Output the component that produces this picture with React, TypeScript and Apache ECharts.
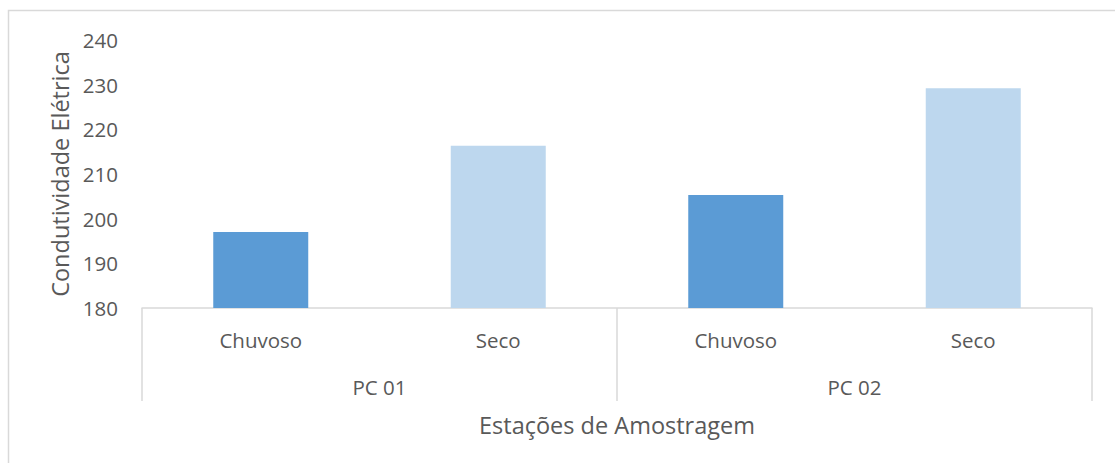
import React, { useEffect, useRef } from "react";
import * as echarts from "echarts";

const categories = ["Chuvoso", "Seco", "Chuvoso", "Seco"];
const groups = ["PC 01", "PC 02"];
const values = [197, 216.3, 205.3, 229.2];
const barColors = ["#5B9BD5", "#BDD7EE", "#5B9BD5", "#BDD7EE"];
const yTitle = "Condutividade Elétrica";
const xTitle = "Estações de Amostragem";

export default function App() {
  const ref = useRef<HTMLDivElement>(null);
  useEffect(() => {
    if (!ref.current) return;
    const chart = echarts.init(ref.current, undefined, { renderer: "svg" });
    const font = "'Open Sans', sans-serif";
    const txt = "#595959";
    const line = "#D9D9D9";
    chart.setOption({
      animation: false,
      backgroundColor: "#ffffff",
      textStyle: { fontFamily: font },
      grid: { left: 142, right: 23, top: 40, bottom: 155 },
      graphic: [
        {
          type: "rect",
          shape: { x: 8.5, y: 10.5, width: 1200, height: 600 },
          style: { fill: "none", stroke: line, lineWidth: 1.5 },
          silent: true,
          z: -1,
        },
      ],
      xAxis: [
        {
          type: "category",
          data: categories,
          position: "bottom",
          axisLine: { show: true, lineStyle: { color: line, width: 1.5 } },
          axisTick: { show: false },
          axisLabel: {
            color: txt,
            fontSize: 20.5,
            fontFamily: font,
            margin: 32,
            verticalAlign: "middle",
          },
          splitLine: { show: false },
        },
        {
          type: "category",
          data: groups,
          position: "bottom",
          axisLine: { show: false },
          axisTick: { show: true, length: 93, inside: false, lineStyle: { color: line, width: 1.5 } },
          axisLabel: {
            color: txt,
            fontSize: 20.5,
            fontFamily: font,
            margin: 79,
            verticalAlign: "middle",
          },
          splitLine: { show: false },
          name: xTitle,
          nameLocation: "middle",
          nameGap: 117,
          nameTextStyle: { color: txt, fontSize: 23.5, fontFamily: font, verticalAlign: "middle" },
        },
      ],
      yAxis: {
        type: "value",
        min: 180,
        max: 240,
        interval: 10,
        axisLine: { show: false },
        axisTick: { show: false },
        splitLine: { show: false },
        axisLabel: { color: txt, fontSize: 20.5, fontFamily: font, margin: 24 },
        name: yTitle,
        nameLocation: "middle",
        nameGap: 80,
        nameTextStyle: { color: txt, fontSize: 23.5, fontFamily: font, verticalAlign: "middle" },
      },
      series: [
        {
          type: "bar",
          xAxisIndex: 0,
          barWidth: "40%",
          data: values.map((v, i) => ({ value: v, itemStyle: { color: barColors[i] } })),
        },
      ],
    });
    return () => chart.dispose();
  }, []);
  return (
    <div
      ref={ref}
      style={{ position: "fixed", left: 0, top: 0, width: 1115, height: 463 }}
    />
  );
}
